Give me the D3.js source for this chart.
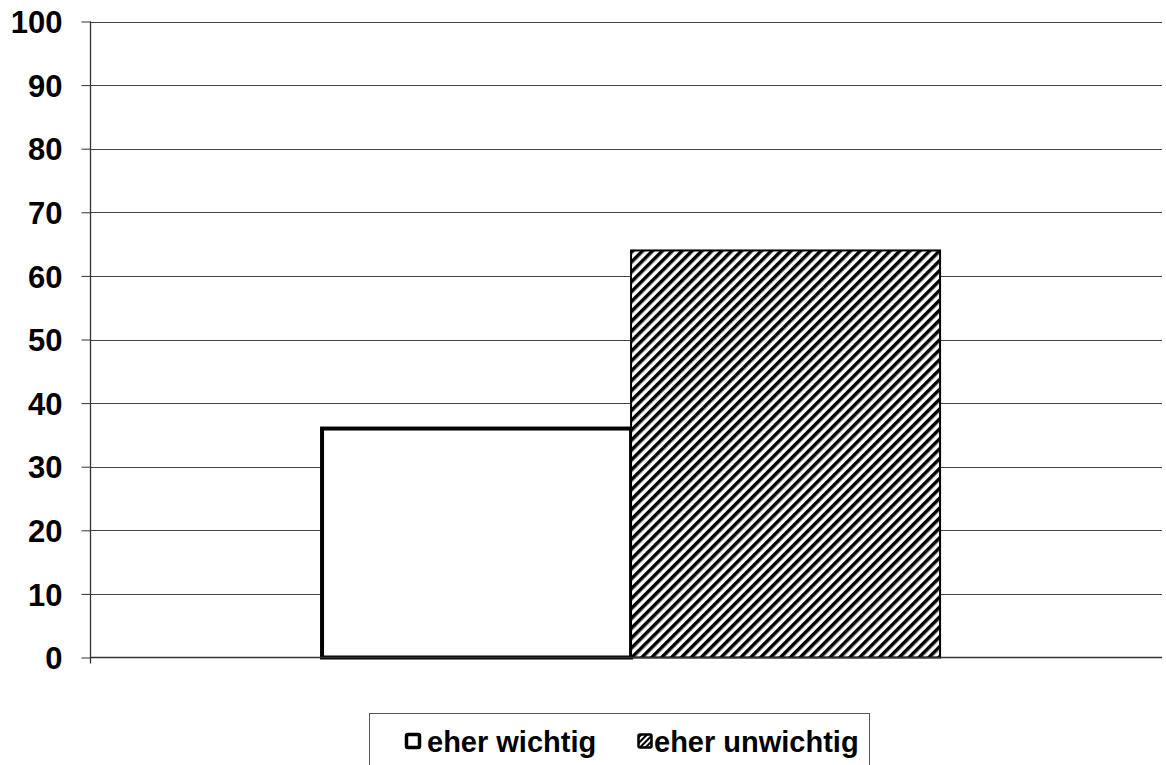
<!DOCTYPE html>
<html><head><meta charset="utf-8">
<script src="https://cdn.jsdelivr.net/npm/d3@7"></script>
<style>body{margin:0;background:#fff}svg{display:block}</style>
</head><body>
<svg id="c" width="1166" height="765"></svg>
<script>
const categories = [""];
const seriesNames = ["eher wichtig", "eher unwichtig"];
const seriesValues = [36, 64];
const yTicks = [0,10,20,30,40,50,60,70,80,90,100];

(function(){
const svg = d3.select("#c");
const mLeft = 90.5, mRight = 1162, mTop = 21.5, mBottom = 657.5;
const font = "'Liberation Sans', Arial, sans-serif";

const defs = svg.append("defs");
const pat = defs.append("pattern").attr("id","hatch").attr("patternUnits","userSpaceOnUse")
  .attr("width",7).attr("height",7).attr("patternTransform","rotate(45)");
pat.append("rect").attr("width",7).attr("height",7).attr("fill","#fff");
pat.append("rect").attr("width",3.5).attr("height",7).attr("fill","#000");
const pat2 = defs.append("pattern").attr("id","hatchS").attr("patternUnits","userSpaceOnUse")
  .attr("width",4).attr("height",4).attr("patternTransform","rotate(45)");
pat2.append("rect").attr("width",4).attr("height",4).attr("fill","#fff");
pat2.append("rect").attr("width",2).attr("height",4).attr("fill","#000");

const y = d3.scaleLinear().domain([0,100]).range([mBottom, mTop]);
const x0 = d3.scaleBand().domain(categories).range([mLeft, mRight]).paddingInner(0.2684).paddingOuter(0.2684).align(0.5106);
const x1 = d3.scaleBand().domain(seriesNames).range([0, x0.bandwidth()]).padding(0);

// gridlines
svg.append("g").selectAll("line").data(yTicks.filter(d=>d>0)).join("line")
  .attr("x1", mLeft).attr("x2", mRight).attr("y1", d=>Math.round(y(d))+0.5).attr("y2", d=>Math.round(y(d))+0.5)
  .attr("stroke","#444").attr("stroke-width",1);

// y axis
const yAxis = d3.axisLeft(y).tickValues(yTicks).tickSize(9).tickPadding(19).tickFormat(d3.format("d"));
const ga = svg.append("g").attr("transform",`translate(${mLeft},0)`).call(yAxis);
ga.select(".domain").attr("stroke","#333").attr("stroke-width",1.3).attr("d", `M0,${mTop}V${mBottom+6}`);
ga.selectAll(".tick line").attr("stroke","#333");
ga.selectAll(".tick text").attr("font-family",font).attr("font-weight","bold").attr("font-size",31).attr("fill","#000").attr("dy","0.36em");

// bars
const g = svg.append("g");
seriesNames.forEach((s,i)=>{
  const x = x0(categories[0]) + x1(s);
  g.append("rect").attr("x", x).attr("y", y(seriesValues[i])).attr("width", x1.bandwidth())
    .attr("height", y(0)-y(seriesValues[i]))
    .attr("fill", i===0 ? "#fff" : "url(#hatch)")
    .attr("stroke","#000").attr("stroke-width", i===0 ? 4 : 2);
});

// x axis line
svg.append("line").attr("x1",mLeft).attr("x2",mRight).attr("y1",mBottom).attr("y2",mBottom).attr("stroke","#333").attr("stroke-width",1.3);

// legend
const lg = svg.append("g");
lg.append("rect").attr("x",369.5).attr("y",713.5).attr("width",500).attr("height",60).attr("fill","#fff").attr("stroke","#555").attr("stroke-width",1);
const items = [{x:405, tx:427},{x:637, tx:654}];
seriesNames.forEach((s,i)=>{
  const it = items[i];
  lg.append("rect").attr("x", it.x+1.5).attr("y", 734.5).attr("width", 13).attr("height", 13)
    .attr("fill", i===0 ? "#fff" : "url(#hatchS)").attr("stroke","#000").attr("stroke-width", i===0 ? 3.5 : 2.5).attr("rx",1.5);
  lg.append("text").attr("x", it.tx).attr("y", 752).attr("font-family",font).attr("font-weight","bold")
    .attr("font-size",29).attr("fill","#000").text(s);
});
})();
</script>
</body></html>
